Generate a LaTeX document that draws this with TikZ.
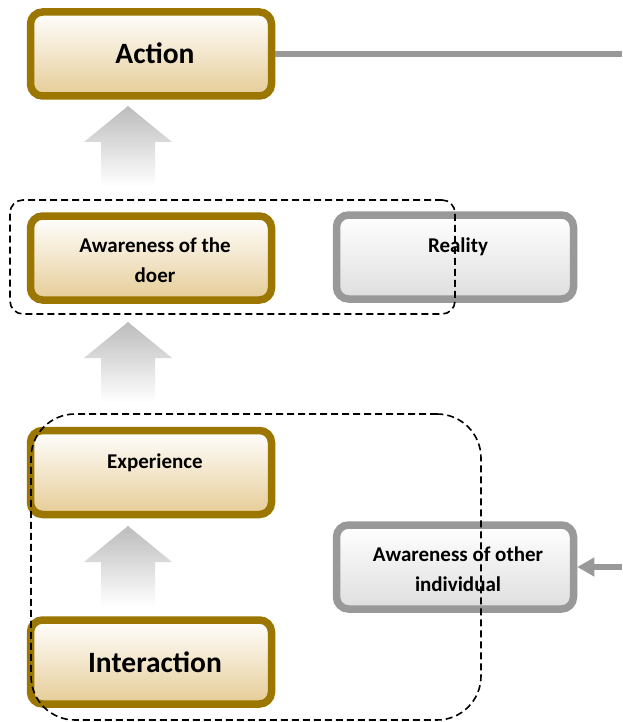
\documentclass[tikz,border=0pt]{standalone}
\usepackage{fontspec}
\setmainfont{Carlito}
\usetikzlibrary{arrows.meta}

\definecolor{tanborder}{RGB}{155,118,0}
\definecolor{tanfill}{RGB}{230,204,150}
\definecolor{greyborder}{RGB}{153,153,153}
\definecolor{greyfill}{RGB}{222,222,222}
\definecolor{arrowgrey}{RGB}{188,188,188}

\tikzset{
  tanbox/.style={draw=tanborder, line width=7.5pt, rounded corners=12pt,
    top color=white, bottom color=tanfill, minimum width=241pt,
    minimum height=84pt, inner sep=0pt, outer sep=3.75pt},
  greybox/.style={tanbox, draw=greyborder, bottom color=greyfill,
    minimum width=237pt},
  bigtext/.style={font=\fontsize{29.5}{34}\selectfont\bfseries, align=center},
  smalltext/.style={font=\fontsize{21}{30}\selectfont\bfseries, align=center},
  group/.style={draw=black, dashed, dash pattern=on 7pt off 4pt,
    line width=1.6pt, inner sep=0pt, outer sep=0pt},
  link/.style={draw=greyborder, line width=5.5pt},
  uparrow/.style={top color=arrowgrey, bottom color=white, draw=none}
}

\begin{document}
\begin{tikzpicture}[x=1pt, y=-1pt]
  \useasboundingbox (0,0) rectangle (622,722);

  % main column of steps
  \node[tanbox] (action) at (151,54) {};
  \node[tanbox] (doer) at (151,258) {};
  \node[tanbox] (experience) at (151,472.5) {};
  \node[tanbox] (interaction) at (151,662) {};

  % grey side boxes
  \node[greybox] (reality) at (455,257) {};
  \node[greybox] (other) at (455,567) {};

  % box captions
  \node[bigtext] (actiontext) at ([xshift=4pt, yshift=1pt]action.center) {Action};
  \node[smalltext] (doertext) at ([xshift=4pt, yshift=-2pt]doer.center) {Awareness of the\\doer};
  \node[smalltext] (experiencetext) at ([xshift=4pt, yshift=10pt]experience.center) {Experience};
  \node[bigtext] (interactiontext) at ([xshift=4pt]interaction.center) {Interaction};
  \node[smalltext] (realitytext) at ([xshift=3pt, yshift=10pt]reality.center) {Reality};
  \node[smalltext] (othertext) at ([xshift=3pt, yshift=-2pt]other.center) {Awareness of other\\individual};

  % shaded block arrows between steps
  \foreach \tip in {106,322,526} {
    \path[uparrow] (128,\tip) -- (172,\tip+36) -- (155,\tip+36) -- (155,\tip+80)
      -- (101,\tip+80) -- (101,\tip+36) -- (84,\tip+36) -- cycle;
  }

  % outgoing and incoming links
  \coordinate (actionout) at (622,54);
  \coordinate (otherin) at (622,567);
  \draw[link] (action.east) -- (actionout);
  \draw[link, -{Triangle[length=17pt,width=18pt]}] (otherin) -- (other.east);

  % dashed groupings
  \node[group, rounded corners=13pt, minimum width=445pt, minimum height=114pt]
    (upper) at (232.5,257) {};
  \node[group, rounded corners=44pt, minimum width=450pt, minimum height=306pt]
    (lower) at (256,567) {};
\end{tikzpicture}
\end{document}
